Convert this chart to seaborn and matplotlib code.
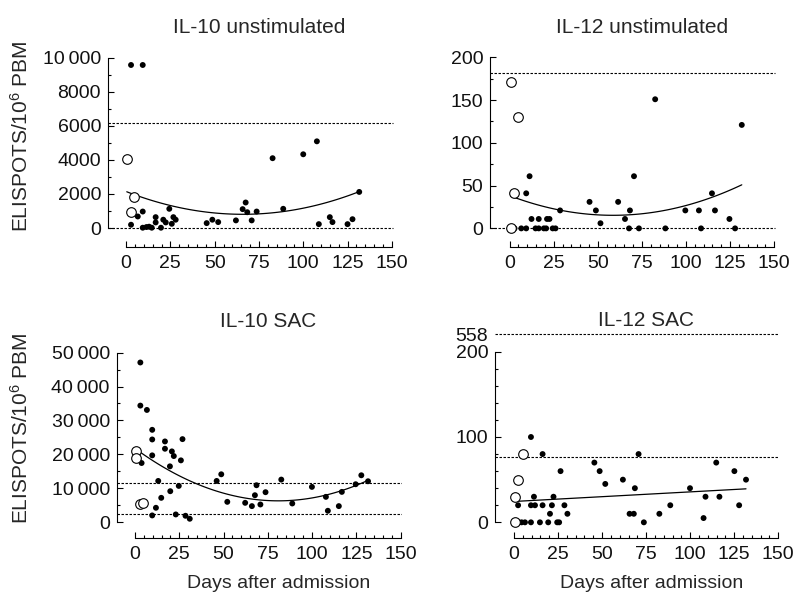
import numpy as np
import pandas as pd
import matplotlib
matplotlib.use("Agg")
import matplotlib.pyplot as plt
import seaborn as sns
from matplotlib.ticker import FixedLocator

# ---- data (days after admission, ELISPOTS/10^6 PBM) ----
# IL-10 unstimulated
il10u_open_day = [0.4, 4.5, 2.8]
il10u_open_val = [4040, 1800, 930]
il10u_day = [2.8, 9.4, 2.8, 6.6, 9.4, 9.4, 11.5, 13, 14.5, 16.7, 16.7, 19.7, 21, 22.4,
             24.4, 25.8, 26.7, 28, 45.5, 48.7, 52, 62, 65.8, 67.5, 68.4, 70.9, 73.7,
             82.7, 88.7, 100, 107.7, 108.8, 115, 116.5, 125, 127.8, 131.6]
il10u_val = [9570, 9570, 195, 680, 970, 20, 60, 80, 20, 640, 330, 20, 490, 330,
             1130, 250, 640, 490, 290, 490, 350, 450, 1110, 1500, 930, 450, 970,
             4100, 1130, 4330, 5090, 230, 640, 350, 230, 520, 2120]
il10u_ref = [0, 6150]

# IL-12 unstimulated
il12u_open_day = [0.6, 4.7, 2.4, 0.6]
il12u_open_val = [171, 130, 41, 0]
il12u_day = [2.8, 6.6, 9.4, 9.4, 11.3, 12.4, 14.7, 16.5, 16.5, 19.4, 20.7, 21.2, 22.6,
             24.4, 26, 28.6, 45.3, 48.9, 51.5, 61.5, 65.4, 67.7, 68.2, 70.5, 73.3,
             82.5, 88.3, 99.6, 107.3, 108.5, 114.7, 116.4, 124.6, 127.8, 131.6]
il12u_val = [0, 0, 0, 41, 61, 11, 0, 11, 0, 0, 0, 11, 11,
             0, 0, 21, 31, 21, 6, 31, 11, 0, 21, 61, 0,
             151, 0, 21, 21, 0, 41, 21, 11, 0, 121]
il12u_ref = [0, 182]

# IL-10 SAC
il10s_open_day = [0.6, 0.6, 2.8, 4.7]
il10s_open_val = [20900, 18950, 5270, 5760]
il10s_day = [3, 3, 6.7, 3.7, 9.7, 9.7, 9.7, 9.7, 11.8, 13.1, 14.8, 16.9, 16.9, 19.7,
             19.9, 20.8, 21.9, 23, 24.7, 25.9, 26.8, 28.5, 30.9, 46.1, 48.7, 52.1,
             62.2, 66, 67.7, 68.6, 70.8, 73.7, 82.6, 88.8, 99.9, 107.8, 108.9, 115.1,
             116.8, 124.6, 127.8, 131.6]
il10s_val = [47070, 34380, 33100, 17480, 27250, 24410, 19730, 2050, 4300, 12200, 7230,
             23830, 21680, 16500, 9180, 20900, 19530, 2340, 10740, 18260, 24510, 1950,
             1070, 12200, 14160, 6050, 5760, 4790, 8000, 10940, 5270, 8890, 12600,
             5570, 10450, 7520, 3420, 4790, 8980, 11230, 13870, 12110]
il10s_ref = [2440, 11600]

# IL-12 SAC
il12s_open_day = [4.9, 2.4, 0.4, 0.4]
il12s_open_val = [80, 50, 30, 0]
il12s_day = [2.3, 2.6, 4.3, 6.2, 9.6, 9.6, 9.6, 11.3, 11.9, 14.7, 16.2, 16.2, 19.4,
             20.4, 21.5, 22.4, 24.5, 25.6, 26.4, 28.6, 30.3, 45.6, 48.6, 51.8, 61.8,
             65.6, 68, 68.6, 70.7, 73.7, 82.5, 88.7, 99.9, 107.6, 108.7, 114.8, 116.6,
             125.1, 127.8, 131.7]
il12s_val = [20, 0, 0, 0, 100, 20, 0, 30, 20, 0, 80, 20, 0,
             10, 20, 30, 0, 0, 60, 20, 10, 70, 60, 45, 50,
             10, 10, 40, 80, 0, 10, 20, 40, 5, 30, 70, 30,
             60, 20, 50]
il12s_ref = [77, 558]

il10u_ticks = [0, 2000, 4000, 6000, 8000, 10000]
il10u_ticklabels = ["0", "2000", "4000", "6000", "8000", "10\u2009000"]
il12u_ticks = [0, 50, 100, 150, 200]
il10s_ticks = [0, 10000, 20000, 30000, 40000, 50000]
il10s_ticklabels = ["0", "10\u2009000", "20\u2009000", "30\u2009000", "40\u2009000", "50\u2009000"]
il12s_ticks = [0, 100, 200]
day_ticks = [0, 25, 50, 75, 100, 125, 150]

sns.set_style("ticks")
plt.rcParams['font.family'] = ['Liberation Sans', 'DejaVu Sans']
plt.rcParams['mathtext.fontset'] = 'custom'
plt.rcParams['mathtext.rm'] = 'Liberation Sans'
plt.rcParams['mathtext.it'] = 'Liberation Sans'

FS = 14
TFS = 15
fig = plt.figure(figsize=(8, 5.98), dpi=100)


def style_axis(ax, xmin, ymin, ymax, ybound, minor_y):
    ax.set_xlim(xmin, 151)
    ax.set_ylim(ymin, ymax)
    ax.spines['top'].set_visible(False)
    ax.spines['right'].set_visible(False)
    ax.spines['left'].set_bounds(0, ybound)
    ax.spines['bottom'].set_bounds(0, 150)
    for s in ('left', 'bottom'):
        ax.spines[s].set_linewidth(0.8)
        ax.spines[s].set_color('black')
    ax.set_xticks(day_ticks)
    ax.xaxis.set_minor_locator(FixedLocator(np.arange(0, 151, 5)))
    ax.yaxis.set_minor_locator(FixedLocator(minor_y))
    ax.tick_params(which='major', direction='in', length=4, width=0.8, labelsize=FS,
                   color='black', labelcolor='#111111')
    ax.tick_params(which='minor', direction='in', length=2, width=0.8, color='black')
    ax.tick_params(axis='x', pad=6)
    ax.tick_params(axis='y', pad=5)


def draw_panel(ax, day, val, open_day, open_val, ref, order, xmin, ref_pos=None):
    for r in ref:
        y = ref_pos.get(r, r) if ref_pos else r
        ax.hlines(y, xmin, 150.5, colors='black', linestyles=(0, (2.2, 1.4)), linewidth=0.8)
    df = pd.DataFrame({'day': list(day) + list(open_day), 'val': list(val) + list(open_val)})
    sns.regplot(data=df, x='day', y='val', order=order, ci=None, scatter=False, truncate=True,
                ax=ax, line_kws={'color': 'black', 'linewidth': 0.9})
    ax.scatter(day, val, s=18, color='black', edgecolors='none', zorder=3)
    ax.scatter(open_day, open_val, s=48, facecolors='white', edgecolors='black',
               linewidths=0.8, zorder=4)
    ax.set_xlabel('')
    ax.set_ylabel('')


ylab = "ELISPOTS/10$^{6}$ PBM"

# panel 1
ax1 = fig.add_axes([0.135, 0.587, 0.357, 0.318])
draw_panel(ax1, il10u_day, il10u_val, il10u_open_day, il10u_open_val, il10u_ref, 2, -10.2)
style_axis(ax1, -10.2, -1110, 10050, 10000, np.arange(0, 10001, 1000))
ax1.set_yticks(il10u_ticks, il10u_ticklabels)
ax1.set_title("IL-10 unstimulated", fontsize=TFS, pad=17, x=0.53)
ax1.set_ylabel(ylab, fontsize=TFS)
ax1.yaxis.set_label_coords(-0.267, 0.58)

# panel 2
ax2 = fig.add_axes([0.613, 0.5875, 0.357, 0.318])
draw_panel(ax2, il12u_day, il12u_val, il12u_open_day, il12u_open_val, il12u_ref, 2, -10.9)
style_axis(ax2, -10.9, -21.4, 201, 200, np.arange(0, 201, 25))
ax2.set_yticks(il12u_ticks)
ax2.set_title("IL-12 unstimulated", fontsize=TFS, pad=17, x=0.53)

# panel 3
ax3 = fig.add_axes([0.146, 0.1003, 0.357, 0.3116])
draw_panel(ax3, il10s_day, il10s_val, il10s_open_day, il10s_open_val, il10s_ref, 2, -10.3)
style_axis(ax3, -10.3, -4600, 50250, 50000, np.arange(0, 50001, 5000))
ax3.set_yticks(il10s_ticks, il10s_ticklabels)
ax3.set_title("IL-10 SAC", fontsize=TFS, pad=18, x=0.53)
ax3.set_ylabel(ylab, fontsize=TFS)
ax3.yaxis.set_label_coords(-0.297, 0.59)
ax3.set_xlabel("Days after admission", fontsize=FS)
ax3.xaxis.set_label_coords(0.565, -0.20)

# panel 4 (broken axis: top reference line drawn above the 200 mark)
break_pos = 220.6
ax4 = fig.add_axes([0.619, 0.1003, 0.356, 0.343])
draw_panel(ax4, il12s_day, il12s_val, il12s_open_day, il12s_open_val, il12s_ref, 1, -10.7,
           ref_pos={558: break_pos})
style_axis(ax4, -10.7, -18.4, 222, 200, np.arange(0, 201, 20))
ax4.set_yticks(il12s_ticks + [break_pos], [str(t) for t in il12s_ticks] + ["558"])
ax4.yaxis.get_major_ticks()[-1].tick1line.set_visible(False)
ax4.set_title("IL-12 SAC", fontsize=TFS, pad=5, x=0.53)
ax4.set_xlabel("Days after admission", fontsize=FS)
ax4.xaxis.set_label_coords(0.55, -0.18)

fig.savefig("out.png", dpi=100)
